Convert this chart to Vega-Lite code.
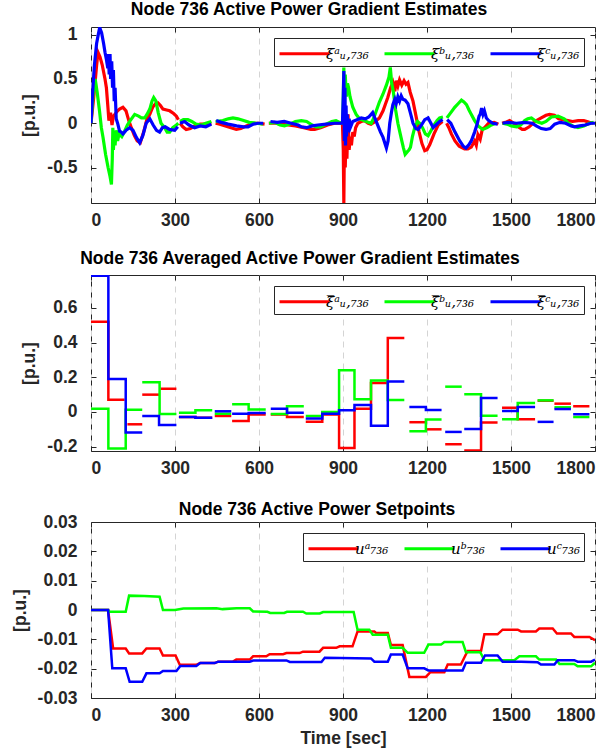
{
  "$schema": "https://vega.github.io/schema/vega-lite/v6.json",
  "background": "white",
  "padding": {"left": 10, "top": 0, "right": 0, "bottom": 0},
  "spacing": 20,
  "config": {
    "font": "Liberation Sans",
    "view": {"stroke": "#262626", "strokeWidth": 1},
    "title": {"font": "Liberation Sans", "fontSize": 17.5, "fontWeight": "bold", "color": "#000000", "offset": 7, "anchor": "middle", "frame": "group"},
    "axis": {"labelFont": "Liberation Sans", "labelFontWeight": "bold", "labelFontSize": 17.5, "labelColor": "#262626", "titleFont": "Liberation Sans", "titleFontWeight": "bold", "titleFontSize": 17.5, "titleColor": "#262626", "domain": false, "tickColor": "#262626", "tickSize": -5, "tickWidth": 1, "grid": false, "labelExpr": "'' + datum.value"},
    "axisX": {"labelPadding": 13, "titlePadding": 6, "gridDash": [6, 5], "gridColor": "#d4d4d4", "gridWidth": 1},
    "axisY": {"labelPadding": 19, "titlePadding": 8},
    "legend": {"orient": "top-right", "direction": "horizontal", "offset": 11, "padding": 4, "strokeColor": "#262626", "fillColor": "white", "symbolType": "M-1,0H4", "symbolSize": 400, "symbolStrokeWidth": 3, "labelFont": "DejaVu Serif", "labelFontStyle": "italic", "labelFontSize": 15, "labelColor": "#000000", "labelOffset": 25, "columnPadding": 9, "title": null}
  },
  "resolve": {"scale": {"color": "independent", "x": "independent", "y": "independent"}},
  "datasets": {
    "p1": [
      {"phase":"a","seg":1,"t":0,"v":0},{"phase":"a","seg":1,"t":10,"v":0.3},{"phase":"a","seg":1,"t":20,"v":0.65},{"phase":"a","seg":1,"t":25,"v":0.8},{"phase":"a","seg":1,"t":32,"v":0.75},{"phase":"a","seg":1,"t":40,"v":0.66},{"phase":"a","seg":1,"t":50,"v":0.5},{"phase":"a","seg":1,"t":55,"v":0.4},{"phase":"a","seg":1,"t":60,"v":0.2},{"phase":"a","seg":1,"t":64,"v":0.03},{"phase":"a","seg":1,"t":70,"v":0.12},{"phase":"a","seg":1,"t":75,"v":-0.02},{"phase":"a","seg":1,"t":80,"v":0.08},{"phase":"a","seg":1,"t":85,"v":0.1},{"phase":"a","seg":1,"t":95,"v":0.14},{"phase":"a","seg":1,"t":102,"v":0.16},{"phase":"a","seg":1,"t":114,"v":0.18},{"phase":"a","seg":1,"t":125,"v":0.14},{"phase":"a","seg":1,"t":135,"v":0.03},{"phase":"a","seg":1,"t":144,"v":-0.05},{"phase":"a","seg":1,"t":155,"v":-0.14},{"phase":"a","seg":1,"t":165,"v":-0.2},{"phase":"a","seg":1,"t":176,"v":-0.22},{"phase":"a","seg":1,"t":188,"v":-0.1},{"phase":"a","seg":1,"t":200,"v":0.05},{"phase":"a","seg":1,"t":210,"v":0.1},{"phase":"a","seg":1,"t":220,"v":0.18},{"phase":"a","seg":1,"t":230,"v":0.22},{"phase":"a","seg":1,"t":239,"v":0.23},{"phase":"a","seg":1,"t":248,"v":0.2},{"phase":"a","seg":1,"t":257,"v":0.16},{"phase":"a","seg":1,"t":270,"v":0.15},{"phase":"a","seg":1,"t":281,"v":0.14},{"phase":"a","seg":1,"t":295,"v":0.11},{"phase":"a","seg":1,"t":305,"v":0.08},{"phase":"a","seg":1,"t":312,"v":0.04},
      {"phase":"a","seg":2,"t":318,"v":0},{"phase":"a","seg":2,"t":328,"v":-0.04},{"phase":"a","seg":2,"t":340,"v":-0.07},{"phase":"a","seg":2,"t":355,"v":-0.06},{"phase":"a","seg":2,"t":370,"v":-0.03},{"phase":"a","seg":2,"t":390,"v":-0.01},{"phase":"a","seg":2,"t":410,"v":-0.01},{"phase":"a","seg":2,"t":430,"v":0},
      {"phase":"a","seg":3,"t":445,"v":0},{"phase":"a","seg":3,"t":460,"v":-0.01},{"phase":"a","seg":3,"t":480,"v":-0.03},{"phase":"a","seg":3,"t":500,"v":-0.05},{"phase":"a","seg":3,"t":519,"v":-0.07},{"phase":"a","seg":3,"t":535,"v":-0.06},{"phase":"a","seg":3,"t":555,"v":-0.03},{"phase":"a","seg":3,"t":579,"v":0},{"phase":"a","seg":3,"t":600,"v":0},{"phase":"a","seg":3,"t":620,"v":-0.01},
      {"phase":"a","seg":4,"t":635,"v":0},{"phase":"a","seg":4,"t":660,"v":0},{"phase":"a","seg":4,"t":680,"v":-0.01},{"phase":"a","seg":4,"t":704,"v":-0.02},{"phase":"a","seg":4,"t":730,"v":-0.03},{"phase":"a","seg":4,"t":760,"v":-0.05},{"phase":"a","seg":4,"t":785,"v":-0.07},{"phase":"a","seg":4,"t":799,"v":-0.07},{"phase":"a","seg":4,"t":820,"v":-0.05},{"phase":"a","seg":4,"t":845,"v":-0.02},{"phase":"a","seg":4,"t":870,"v":0},{"phase":"a","seg":4,"t":898,"v":0},{"phase":"a","seg":4,"t":901,"v":-0.3},{"phase":"a","seg":4,"t":903,"v":-0.9},{"phase":"a","seg":4,"t":905,"v":-0.2},{"phase":"a","seg":4,"t":908,"v":-0.5},{"phase":"a","seg":4,"t":911,"v":-0.1},{"phase":"a","seg":4,"t":914,"v":-0.4},{"phase":"a","seg":4,"t":918,"v":0.1},{"phase":"a","seg":4,"t":922,"v":-0.3},{"phase":"a","seg":4,"t":926,"v":-0.15},{"phase":"a","seg":4,"t":930,"v":-0.25},{"phase":"a","seg":4,"t":935,"v":-0.1},{"phase":"a","seg":4,"t":940,"v":-0.15},{"phase":"a","seg":4,"t":945,"v":-0.05},{"phase":"a","seg":4,"t":953,"v":0},{"phase":"a","seg":4,"t":965,"v":0.02},{"phase":"a","seg":4,"t":977,"v":0.03},{"phase":"a","seg":4,"t":990,"v":0},{"phase":"a","seg":4,"t":1000,"v":-0.01},{"phase":"a","seg":4,"t":1015,"v":0.02},{"phase":"a","seg":4,"t":1030,"v":0.06},{"phase":"a","seg":4,"t":1043,"v":0.14},{"phase":"a","seg":4,"t":1052,"v":0.22},{"phase":"a","seg":4,"t":1060,"v":0.29},{"phase":"a","seg":4,"t":1070,"v":0.4},{"phase":"a","seg":4,"t":1078,"v":0.46},{"phase":"a","seg":4,"t":1085,"v":0.36},{"phase":"a","seg":4,"t":1090,"v":0.48},{"phase":"a","seg":4,"t":1096,"v":0.42},{"phase":"a","seg":4,"t":1102,"v":0.49},{"phase":"a","seg":4,"t":1110,"v":0.43},{"phase":"a","seg":4,"t":1118,"v":0.48},{"phase":"a","seg":4,"t":1125,"v":0.44},{"phase":"a","seg":4,"t":1132,"v":0.46},{"phase":"a","seg":4,"t":1140,"v":0.35},{"phase":"a","seg":4,"t":1150,"v":0.25},{"phase":"a","seg":4,"t":1162,"v":0.06},{"phase":"a","seg":4,"t":1172,"v":-0.1},{"phase":"a","seg":4,"t":1182,"v":-0.23},{"phase":"a","seg":4,"t":1192,"v":-0.31},{"phase":"a","seg":4,"t":1200,"v":-0.3},{"phase":"a","seg":4,"t":1210,"v":-0.24},{"phase":"a","seg":4,"t":1225,"v":-0.12},{"phase":"a","seg":4,"t":1240,"v":-0.02},{"phase":"a","seg":4,"t":1255,"v":0.02},
      {"phase":"a","seg":5,"t":1270,"v":0},{"phase":"a","seg":5,"t":1278,"v":-0.05},{"phase":"a","seg":5,"t":1287,"v":-0.12},{"phase":"a","seg":5,"t":1300,"v":-0.2},{"phase":"a","seg":5,"t":1315,"v":-0.26},{"phase":"a","seg":5,"t":1334,"v":-0.29},{"phase":"a","seg":5,"t":1346,"v":-0.29},{"phase":"a","seg":5,"t":1358,"v":-0.27},{"phase":"a","seg":5,"t":1370,"v":-0.2},{"phase":"a","seg":5,"t":1376,"v":-0.25},{"phase":"a","seg":5,"t":1382,"v":-0.13},{"phase":"a","seg":5,"t":1390,"v":-0.18},{"phase":"a","seg":5,"t":1398,"v":-0.06},{"phase":"a","seg":5,"t":1406,"v":-0.05},{"phase":"a","seg":5,"t":1420,"v":0},{"phase":"a","seg":5,"t":1440,"v":0.01},{"phase":"a","seg":5,"t":1455,"v":-0.01},
      {"phase":"a","seg":6,"t":1468,"v":0},{"phase":"a","seg":6,"t":1480,"v":0.01},{"phase":"a","seg":6,"t":1495,"v":0.03},{"phase":"a","seg":6,"t":1510,"v":0},{"phase":"a","seg":6,"t":1525,"v":-0.04},{"phase":"a","seg":6,"t":1540,"v":-0.07},{"phase":"a","seg":6,"t":1549,"v":-0.07},{"phase":"a","seg":6,"t":1565,"v":-0.04},{"phase":"a","seg":6,"t":1585,"v":0.02},{"phase":"a","seg":6,"t":1608,"v":0.06},{"phase":"a","seg":6,"t":1625,"v":0.09},{"phase":"a","seg":6,"t":1638,"v":0.1},{"phase":"a","seg":6,"t":1655,"v":0.09},{"phase":"a","seg":6,"t":1670,"v":0.05},{"phase":"a","seg":6,"t":1685,"v":0.04},{"phase":"a","seg":6,"t":1703,"v":0.03},{"phase":"a","seg":6,"t":1720,"v":0.02},{"phase":"a","seg":6,"t":1740,"v":0.03},{"phase":"a","seg":6,"t":1760,"v":0.03},{"phase":"a","seg":6,"t":1780,"v":0.01},{"phase":"a","seg":6,"t":1795,"v":0},

      {"phase":"b","seg":1,"t":0,"v":0},{"phase":"b","seg":1,"t":8,"v":0.35},{"phase":"b","seg":1,"t":15,"v":0.5},{"phase":"b","seg":1,"t":22,"v":0.35},{"phase":"b","seg":1,"t":30,"v":0.15},{"phase":"b","seg":1,"t":37,"v":-0.05},{"phase":"b","seg":1,"t":43,"v":-0.16},{"phase":"b","seg":1,"t":52,"v":-0.35},{"phase":"b","seg":1,"t":61,"v":-0.5},{"phase":"b","seg":1,"t":68,"v":-0.6},{"phase":"b","seg":1,"t":73,"v":-0.69},{"phase":"b","seg":1,"t":76,"v":-0.4},{"phase":"b","seg":1,"t":78,"v":-0.05},{"phase":"b","seg":1,"t":80,"v":-0.3},{"phase":"b","seg":1,"t":83,"v":-0.1},{"phase":"b","seg":1,"t":86,"v":-0.25},{"phase":"b","seg":1,"t":90,"v":-0.08},{"phase":"b","seg":1,"t":95,"v":-0.2},{"phase":"b","seg":1,"t":100,"v":-0.12},{"phase":"b","seg":1,"t":110,"v":-0.15},{"phase":"b","seg":1,"t":120,"v":-0.09},{"phase":"b","seg":1,"t":130,"v":-0.02},{"phase":"b","seg":1,"t":140,"v":0.03},{"phase":"b","seg":1,"t":156,"v":0.1},{"phase":"b","seg":1,"t":170,"v":0.08},{"phase":"b","seg":1,"t":180,"v":0.06},{"phase":"b","seg":1,"t":192,"v":0.06},{"phase":"b","seg":1,"t":200,"v":0.1},{"phase":"b","seg":1,"t":210,"v":0.16},{"phase":"b","seg":1,"t":218,"v":0.25},{"phase":"b","seg":1,"t":224,"v":0.29},{"phase":"b","seg":1,"t":232,"v":0.25},{"phase":"b","seg":1,"t":240,"v":0.12},{"phase":"b","seg":1,"t":250,"v":0},{"phase":"b","seg":1,"t":263,"v":-0.05},{"phase":"b","seg":1,"t":272,"v":-0.1},{"phase":"b","seg":1,"t":281,"v":-0.1},{"phase":"b","seg":1,"t":292,"v":-0.05},{"phase":"b","seg":1,"t":305,"v":-0.02},{"phase":"b","seg":1,"t":312,"v":0},
      {"phase":"b","seg":2,"t":318,"v":0.02},{"phase":"b","seg":2,"t":330,"v":0.04},{"phase":"b","seg":2,"t":346,"v":0.04},{"phase":"b","seg":2,"t":360,"v":0.02},{"phase":"b","seg":2,"t":375,"v":-0.01},{"phase":"b","seg":2,"t":395,"v":-0.02},{"phase":"b","seg":2,"t":410,"v":0},{"phase":"b","seg":2,"t":430,"v":0.02},
      {"phase":"b","seg":3,"t":445,"v":0.02},{"phase":"b","seg":3,"t":471,"v":0.03},{"phase":"b","seg":3,"t":490,"v":0.05},{"phase":"b","seg":3,"t":507,"v":0.06},{"phase":"b","seg":3,"t":525,"v":0.05},{"phase":"b","seg":3,"t":545,"v":0.03},{"phase":"b","seg":3,"t":565,"v":0.01},{"phase":"b","seg":3,"t":590,"v":0},{"phase":"b","seg":3,"t":614,"v":-0.01},
      {"phase":"b","seg":4,"t":636,"v":0},{"phase":"b","seg":4,"t":656,"v":0.01},{"phase":"b","seg":4,"t":675,"v":-0.02},{"phase":"b","seg":4,"t":691,"v":-0.03},{"phase":"b","seg":4,"t":710,"v":-0.01},{"phase":"b","seg":4,"t":730,"v":0.02},{"phase":"b","seg":4,"t":751,"v":0.03},{"phase":"b","seg":4,"t":770,"v":0.02},{"phase":"b","seg":4,"t":790,"v":-0.02},{"phase":"b","seg":4,"t":804,"v":-0.04},{"phase":"b","seg":4,"t":820,"v":-0.04},{"phase":"b","seg":4,"t":840,"v":-0.01},{"phase":"b","seg":4,"t":860,"v":0.02},{"phase":"b","seg":4,"t":875,"v":0.03},{"phase":"b","seg":4,"t":893,"v":0},{"phase":"b","seg":4,"t":899,"v":0},{"phase":"b","seg":4,"t":901,"v":0.3},{"phase":"b","seg":4,"t":903,"v":0.63},{"phase":"b","seg":4,"t":905,"v":0.2},{"phase":"b","seg":4,"t":908,"v":0.55},{"phase":"b","seg":4,"t":912,"v":0.3},{"phase":"b","seg":4,"t":916,"v":0.45},{"phase":"b","seg":4,"t":920,"v":0.4},{"phase":"b","seg":4,"t":925,"v":0.3},{"phase":"b","seg":4,"t":935,"v":0.18},{"phase":"b","seg":4,"t":947,"v":0.1},{"phase":"b","seg":4,"t":959,"v":0.05},{"phase":"b","seg":4,"t":975,"v":0.03},{"phase":"b","seg":4,"t":990,"v":0.01},{"phase":"b","seg":4,"t":1001,"v":0},{"phase":"b","seg":4,"t":1010,"v":0.06},{"phase":"b","seg":4,"t":1019,"v":0.14},{"phase":"b","seg":4,"t":1030,"v":0.24},{"phase":"b","seg":4,"t":1043,"v":0.33},{"phase":"b","seg":4,"t":1055,"v":0.43},{"phase":"b","seg":4,"t":1064,"v":0.52},{"phase":"b","seg":4,"t":1069,"v":0.63},{"phase":"b","seg":4,"t":1074,"v":0.45},{"phase":"b","seg":4,"t":1080,"v":0.35},{"phase":"b","seg":4,"t":1088,"v":0.15},{"phase":"b","seg":4,"t":1096,"v":0},{"phase":"b","seg":4,"t":1103,"v":-0.1},{"phase":"b","seg":4,"t":1110,"v":-0.2},{"phase":"b","seg":4,"t":1116,"v":-0.28},{"phase":"b","seg":4,"t":1122,"v":-0.35},{"phase":"b","seg":4,"t":1130,"v":-0.32},{"phase":"b","seg":4,"t":1136,"v":-0.3},{"phase":"b","seg":4,"t":1141,"v":-0.27},{"phase":"b","seg":4,"t":1148,"v":-0.15},{"phase":"b","seg":4,"t":1156,"v":-0.05},{"phase":"b","seg":4,"t":1166,"v":0.02},{"phase":"b","seg":4,"t":1174,"v":0},{"phase":"b","seg":4,"t":1184,"v":-0.05},{"phase":"b","seg":4,"t":1194,"v":-0.12},{"phase":"b","seg":4,"t":1204,"v":-0.14},{"phase":"b","seg":4,"t":1215,"v":-0.08},{"phase":"b","seg":4,"t":1225,"v":-0.02},{"phase":"b","seg":4,"t":1236,"v":0.03},{"phase":"b","seg":4,"t":1245,"v":0.06},{"phase":"b","seg":4,"t":1257,"v":0.07},
      {"phase":"b","seg":5,"t":1271,"v":0.06},{"phase":"b","seg":5,"t":1285,"v":0.12},{"phase":"b","seg":5,"t":1299,"v":0.18},{"phase":"b","seg":5,"t":1311,"v":0.22},{"phase":"b","seg":5,"t":1323,"v":0.26},{"phase":"b","seg":5,"t":1332,"v":0.24},{"phase":"b","seg":5,"t":1341,"v":0.21},{"phase":"b","seg":5,"t":1350,"v":0.15},{"phase":"b","seg":5,"t":1358,"v":0.1},{"phase":"b","seg":5,"t":1370,"v":0.03},{"phase":"b","seg":5,"t":1383,"v":-0.03},{"phase":"b","seg":5,"t":1399,"v":-0.07},{"phase":"b","seg":5,"t":1415,"v":-0.05},{"phase":"b","seg":5,"t":1430,"v":-0.02},{"phase":"b","seg":5,"t":1445,"v":0},
      {"phase":"b","seg":6,"t":1470,"v":0},{"phase":"b","seg":6,"t":1485,"v":-0.01},{"phase":"b","seg":6,"t":1501,"v":-0.03},{"phase":"b","seg":6,"t":1520,"v":-0.04},{"phase":"b","seg":6,"t":1535,"v":-0.02},{"phase":"b","seg":6,"t":1549,"v":0.03},{"phase":"b","seg":6,"t":1560,"v":0.05},{"phase":"b","seg":6,"t":1573,"v":0.06},{"phase":"b","seg":6,"t":1590,"v":0.02},{"phase":"b","seg":6,"t":1610,"v":0},{"phase":"b","seg":6,"t":1625,"v":0.02},{"phase":"b","seg":6,"t":1644,"v":0.07},{"phase":"b","seg":6,"t":1668,"v":0.08},{"phase":"b","seg":6,"t":1690,"v":0.05},{"phase":"b","seg":6,"t":1705,"v":0},{"phase":"b","seg":6,"t":1720,"v":-0.03},{"phase":"b","seg":6,"t":1739,"v":-0.05},{"phase":"b","seg":6,"t":1760,"v":-0.03},{"phase":"b","seg":6,"t":1780,"v":0},{"phase":"b","seg":6,"t":1795,"v":0.01},

      {"phase":"c","seg":1,"t":0,"v":0},{"phase":"c","seg":1,"t":5,"v":0.3},{"phase":"c","seg":1,"t":12,"v":0.65},{"phase":"c","seg":1,"t":20,"v":0.9},{"phase":"c","seg":1,"t":26,"v":1.0},{"phase":"c","seg":1,"t":31,"v":1.08},{"phase":"c","seg":1,"t":38,"v":1.02},{"phase":"c","seg":1,"t":45,"v":0.9},{"phase":"c","seg":1,"t":50,"v":0.8},{"phase":"c","seg":1,"t":55,"v":0.72},{"phase":"c","seg":1,"t":60,"v":0.62},{"phase":"c","seg":1,"t":62,"v":0.78},{"phase":"c","seg":1,"t":65,"v":0.55},{"phase":"c","seg":1,"t":68,"v":0.78},{"phase":"c","seg":1,"t":70,"v":0.5},{"phase":"c","seg":1,"t":74,"v":0.7},{"phase":"c","seg":1,"t":77,"v":0.4},{"phase":"c","seg":1,"t":80,"v":0.6},{"phase":"c","seg":1,"t":83,"v":0.25},{"phase":"c","seg":1,"t":86,"v":0.4},{"phase":"c","seg":1,"t":90,"v":0.05},{"phase":"c","seg":1,"t":95,"v":0},{"phase":"c","seg":1,"t":102,"v":-0.09},{"phase":"c","seg":1,"t":108,"v":-0.1},{"phase":"c","seg":1,"t":114,"v":-0.12},{"phase":"c","seg":1,"t":125,"v":-0.08},{"phase":"c","seg":1,"t":138,"v":-0.05},{"phase":"c","seg":1,"t":150,"v":-0.08},{"phase":"c","seg":1,"t":162,"v":-0.16},{"phase":"c","seg":1,"t":174,"v":-0.22},{"phase":"c","seg":1,"t":185,"v":-0.14},{"phase":"c","seg":1,"t":197,"v":0},{"phase":"c","seg":1,"t":210,"v":0.05},{"phase":"c","seg":1,"t":222,"v":-0.02},{"phase":"c","seg":1,"t":234,"v":-0.08},{"phase":"c","seg":1,"t":245,"v":-0.1},{"phase":"c","seg":1,"t":255,"v":-0.05},{"phase":"c","seg":1,"t":265,"v":-0.04},{"phase":"c","seg":1,"t":280,"v":-0.07},{"phase":"c","seg":1,"t":299,"v":-0.08},{"phase":"c","seg":1,"t":310,"v":-0.04},
      {"phase":"c","seg":2,"t":318,"v":0},{"phase":"c","seg":2,"t":334,"v":0.02},{"phase":"c","seg":2,"t":350,"v":-0.02},{"phase":"c","seg":2,"t":370,"v":-0.05},{"phase":"c","seg":2,"t":390,"v":-0.03},{"phase":"c","seg":2,"t":410,"v":-0.04},{"phase":"c","seg":2,"t":430,"v":-0.01},
      {"phase":"c","seg":3,"t":447,"v":0.03},{"phase":"c","seg":3,"t":465,"v":0.01},{"phase":"c","seg":3,"t":490,"v":-0.01},{"phase":"c","seg":3,"t":520,"v":-0.03},{"phase":"c","seg":3,"t":545,"v":-0.04},{"phase":"c","seg":3,"t":561,"v":-0.04},{"phase":"c","seg":3,"t":580,"v":-0.01},{"phase":"c","seg":3,"t":596,"v":0},{"phase":"c","seg":3,"t":615,"v":0},
      {"phase":"c","seg":4,"t":641,"v":0.02},{"phase":"c","seg":4,"t":665,"v":0.01},{"phase":"c","seg":4,"t":690,"v":0.02},{"phase":"c","seg":4,"t":715,"v":0},{"phase":"c","seg":4,"t":740,"v":-0.02},{"phase":"c","seg":4,"t":751,"v":-0.04},{"phase":"c","seg":4,"t":770,"v":-0.05},{"phase":"c","seg":4,"t":790,"v":-0.03},{"phase":"c","seg":4,"t":810,"v":-0.02},{"phase":"c","seg":4,"t":840,"v":-0.01},{"phase":"c","seg":4,"t":870,"v":0},{"phase":"c","seg":4,"t":898,"v":0},{"phase":"c","seg":4,"t":901,"v":0.3},{"phase":"c","seg":4,"t":903,"v":0.59},{"phase":"c","seg":4,"t":905,"v":-0.2},{"phase":"c","seg":4,"t":907,"v":0.4},{"phase":"c","seg":4,"t":909,"v":-0.25},{"phase":"c","seg":4,"t":911,"v":0.2},{"phase":"c","seg":4,"t":913,"v":-0.15},{"phase":"c","seg":4,"t":915,"v":0.1},{"phase":"c","seg":4,"t":918,"v":-0.1},{"phase":"c","seg":4,"t":922,"v":0.05},{"phase":"c","seg":4,"t":926,"v":-0.05},{"phase":"c","seg":4,"t":935,"v":0.02},{"phase":"c","seg":4,"t":950,"v":0.04},{"phase":"c","seg":4,"t":965,"v":0.06},{"phase":"c","seg":4,"t":980,"v":0.05},{"phase":"c","seg":4,"t":992,"v":0.07},{"phase":"c","seg":4,"t":1006,"v":0.12},{"phase":"c","seg":4,"t":1015,"v":0.05},{"phase":"c","seg":4,"t":1025,"v":-0.03},{"phase":"c","seg":4,"t":1034,"v":-0.1},{"phase":"c","seg":4,"t":1043,"v":-0.16},{"phase":"c","seg":4,"t":1055,"v":-0.28},{"phase":"c","seg":4,"t":1061,"v":-0.2},{"phase":"c","seg":4,"t":1067,"v":0},{"phase":"c","seg":4,"t":1073,"v":0.12},{"phase":"c","seg":4,"t":1078,"v":0.21},{"phase":"c","seg":4,"t":1085,"v":0.27},{"phase":"c","seg":4,"t":1090,"v":0.22},{"phase":"c","seg":4,"t":1096,"v":0.3},{"phase":"c","seg":4,"t":1102,"v":0.25},{"phase":"c","seg":4,"t":1108,"v":0.31},{"phase":"c","seg":4,"t":1114,"v":0.27},{"phase":"c","seg":4,"t":1122,"v":0.26},{"phase":"c","seg":4,"t":1132,"v":0.22},{"phase":"c","seg":4,"t":1142,"v":0.1},{"phase":"c","seg":4,"t":1150,"v":0},{"phase":"c","seg":4,"t":1160,"v":-0.06},{"phase":"c","seg":4,"t":1168,"v":-0.07},{"phase":"c","seg":4,"t":1180,"v":-0.02},{"phase":"c","seg":4,"t":1192,"v":0.04},{"phase":"c","seg":4,"t":1204,"v":0.06},{"phase":"c","seg":4,"t":1214,"v":0},{"phase":"c","seg":4,"t":1222,"v":-0.05},{"phase":"c","seg":4,"t":1232,"v":-0.02},{"phase":"c","seg":4,"t":1245,"v":0.02},{"phase":"c","seg":4,"t":1256,"v":0.04},
      {"phase":"c","seg":5,"t":1272,"v":0.04},{"phase":"c","seg":5,"t":1285,"v":0},{"phase":"c","seg":5,"t":1300,"v":-0.1},{"phase":"c","seg":5,"t":1317,"v":-0.2},{"phase":"c","seg":5,"t":1330,"v":-0.26},{"phase":"c","seg":5,"t":1339,"v":-0.28},{"phase":"c","seg":5,"t":1350,"v":-0.24},{"phase":"c","seg":5,"t":1358,"v":-0.2},{"phase":"c","seg":5,"t":1370,"v":-0.1},{"phase":"c","seg":5,"t":1380,"v":0},{"phase":"c","seg":5,"t":1386,"v":0.08},{"phase":"c","seg":5,"t":1390,"v":0.1},{"phase":"c","seg":5,"t":1395,"v":0.17},{"phase":"c","seg":5,"t":1400,"v":0.1},{"phase":"c","seg":5,"t":1405,"v":0.14},{"phase":"c","seg":5,"t":1412,"v":0.06},{"phase":"c","seg":5,"t":1420,"v":0.03},{"phase":"c","seg":5,"t":1435,"v":0},{"phase":"c","seg":5,"t":1452,"v":-0.01},
      {"phase":"c","seg":6,"t":1470,"v":0},{"phase":"c","seg":6,"t":1490,"v":0.01},{"phase":"c","seg":6,"t":1520,"v":0},{"phase":"c","seg":6,"t":1549,"v":0.01},{"phase":"c","seg":6,"t":1575,"v":0},{"phase":"c","seg":6,"t":1590,"v":-0.03},{"phase":"c","seg":6,"t":1608,"v":-0.06},{"phase":"c","seg":6,"t":1625,"v":-0.07},{"phase":"c","seg":6,"t":1640,"v":-0.06},{"phase":"c","seg":6,"t":1656,"v":-0.01},{"phase":"c","seg":6,"t":1675,"v":0.01},{"phase":"c","seg":6,"t":1695,"v":0},{"phase":"c","seg":6,"t":1715,"v":-0.03},{"phase":"c","seg":6,"t":1727,"v":-0.04},{"phase":"c","seg":6,"t":1745,"v":-0.03},{"phase":"c","seg":6,"t":1765,"v":-0.02},{"phase":"c","seg":6,"t":1786,"v":0},{"phase":"c","seg":6,"t":1800,"v":0}
    ],
    "p2": [
      {"phase":"a","run":1,"t":0,"v":0.521},{"phase":"a","run":1,"t":62,"v":0.071},{"phase":"a","run":1,"t":120,"v":0.071},
      {"phase":"a","run":2,"t":130,"v":-0.071},{"phase":"a","run":2,"t":183,"v":-0.071},
      {"phase":"a","run":3,"t":183,"v":0.1},{"phase":"a","run":3,"t":243,"v":0.1},
      {"phase":"a","run":4,"t":248,"v":0.134},{"phase":"a","run":4,"t":305,"v":0.134},
      {"phase":"a","run":5,"t":314,"v":-0.029},{"phase":"a","run":5,"t":373,"v":-0.033},{"phase":"a","run":5,"t":433,"v":-0.033},
      {"phase":"a","run":6,"t":442,"v":-0.023},{"phase":"a","run":6,"t":501,"v":-0.023},
      {"phase":"a","run":7,"t":504,"v":-0.052},{"phase":"a","run":7,"t":563,"v":-0.015},{"phase":"a","run":7,"t":624,"v":-0.015},
      {"phase":"a","run":8,"t":642,"v":-0.015},{"phase":"a","run":8,"t":700,"v":-0.029},{"phase":"a","run":8,"t":760,"v":-0.029},
      {"phase":"a","run":9,"t":767,"v":-0.057},{"phase":"a","run":9,"t":826,"v":-0.015},{"phase":"a","run":9,"t":886,"v":-0.207},{"phase":"a","run":9,"t":941,"v":0.019},{"phase":"a","run":9,"t":1000,"v":0.167},{"phase":"a","run":9,"t":1060,"v":0.427},{"phase":"a","run":9,"t":1119,"v":0.427},
      {"phase":"a","run":10,"t":1137,"v":-0.059},{"phase":"a","run":10,"t":1196,"v":-0.059},
      {"phase":"a","run":11,"t":1196,"v":-0.1},{"phase":"a","run":11,"t":1252,"v":-0.1},
      {"phase":"a","run":12,"t":1265,"v":-0.186},{"phase":"a","run":12,"t":1324,"v":-0.186},
      {"phase":"a","run":13,"t":1333,"v":-0.222},{"phase":"a","run":13,"t":1393,"v":-0.061},{"phase":"a","run":13,"t":1452,"v":-0.061},
      {"phase":"a","run":14,"t":1468,"v":0.025},{"phase":"a","run":14,"t":1524,"v":-0.042},{"phase":"a","run":14,"t":1586,"v":-0.042},
      {"phase":"a","run":15,"t":1595,"v":0.065},{"phase":"a","run":15,"t":1652,"v":0.065},
      {"phase":"a","run":16,"t":1655,"v":0.048},{"phase":"a","run":16,"t":1714,"v":0.048},
      {"phase":"a","run":17,"t":1722,"v":0.033},{"phase":"a","run":17,"t":1780,"v":0.033},

      {"phase":"b","run":1,"t":0,"v":0.019},{"phase":"b","run":1,"t":62,"v":-0.21},{"phase":"b","run":1,"t":124,"v":0.013},{"phase":"b","run":1,"t":183,"v":0.013},
      {"phase":"b","run":2,"t":183,"v":0.172},{"phase":"b","run":2,"t":245,"v":-0.012},{"phase":"b","run":2,"t":305,"v":-0.012},
      {"phase":"b","run":3,"t":314,"v":-0.004},{"phase":"b","run":3,"t":373,"v":0.01},{"phase":"b","run":3,"t":433,"v":0.01},
      {"phase":"b","run":4,"t":442,"v":-0.01},{"phase":"b","run":4,"t":501,"v":-0.01},
      {"phase":"b","run":5,"t":504,"v":0.044},{"phase":"b","run":5,"t":563,"v":0.015},{"phase":"b","run":5,"t":624,"v":0.015},
      {"phase":"b","run":6,"t":642,"v":-0.012},{"phase":"b","run":6,"t":700,"v":0.033},{"phase":"b","run":6,"t":760,"v":0.033},
      {"phase":"b","run":7,"t":767,"v":-0.023},{"phase":"b","run":7,"t":826,"v":0},{"phase":"b","run":7,"t":886,"v":0.24},{"phase":"b","run":7,"t":941,"v":0.073},{"phase":"b","run":7,"t":1000,"v":0.182},{"phase":"b","run":7,"t":1060,"v":0.069},{"phase":"b","run":7,"t":1119,"v":0.069},
      {"phase":"b","run":8,"t":1137,"v":-0.111},{"phase":"b","run":8,"t":1196,"v":-0.044},{"phase":"b","run":8,"t":1252,"v":-0.044},
      {"phase":"b","run":9,"t":1265,"v":0.146},{"phase":"b","run":9,"t":1324,"v":0.146},
      {"phase":"b","run":10,"t":1333,"v":0.102},{"phase":"b","run":10,"t":1393,"v":-0.021},{"phase":"b","run":10,"t":1452,"v":-0.021},
      {"phase":"b","run":11,"t":1468,"v":-0.042},{"phase":"b","run":11,"t":1524,"v":0.052},{"phase":"b","run":11,"t":1586,"v":0.052},
      {"phase":"b","run":12,"t":1595,"v":0.067},{"phase":"b","run":12,"t":1652,"v":0.067},
      {"phase":"b","run":13,"t":1655,"v":0.027},{"phase":"b","run":13,"t":1714,"v":0.027},
      {"phase":"b","run":14,"t":1722,"v":-0.029},{"phase":"b","run":14,"t":1780,"v":-0.029},

      {"phase":"c","run":1,"t":0,"v":0.785},{"phase":"c","run":1,"t":62,"v":0.19},{"phase":"c","run":1,"t":124,"v":-0.119},{"phase":"c","run":1,"t":183,"v":-0.119},
      {"phase":"c","run":2,"t":183,"v":-0.023},{"phase":"c","run":2,"t":243,"v":-0.075},{"phase":"c","run":2,"t":305,"v":-0.075},
      {"phase":"c","run":3,"t":314,"v":-0.029},{"phase":"c","run":3,"t":373,"v":-0.033},{"phase":"c","run":3,"t":433,"v":-0.033},
      {"phase":"c","run":4,"t":442,"v":0.004},{"phase":"c","run":4,"t":501,"v":0.004},
      {"phase":"c","run":5,"t":504,"v":-0.01},{"phase":"c","run":5,"t":563,"v":-0.006},{"phase":"c","run":5,"t":624,"v":-0.006},
      {"phase":"c","run":6,"t":642,"v":0.019},{"phase":"c","run":6,"t":700,"v":-0.004},{"phase":"c","run":6,"t":760,"v":-0.004},
      {"phase":"c","run":7,"t":767,"v":-0.038},{"phase":"c","run":7,"t":826,"v":-0.01},{"phase":"c","run":7,"t":886,"v":0.01},{"phase":"c","run":7,"t":941,"v":0.04},{"phase":"c","run":7,"t":1000,"v":-0.08},{"phase":"c","run":7,"t":1060,"v":0.176},{"phase":"c","run":7,"t":1119,"v":0.176},
      {"phase":"c","run":8,"t":1137,"v":0.029},{"phase":"c","run":8,"t":1196,"v":0.011},{"phase":"c","run":8,"t":1252,"v":0.011},
      {"phase":"c","run":9,"t":1265,"v":-0.115},{"phase":"c","run":9,"t":1324,"v":-0.115},
      {"phase":"c","run":10,"t":1333,"v":-0.098},{"phase":"c","run":10,"t":1393,"v":0.08},{"phase":"c","run":10,"t":1452,"v":0.08},
      {"phase":"c","run":11,"t":1468,"v":0.006},{"phase":"c","run":11,"t":1524,"v":0.029},{"phase":"c","run":11,"t":1586,"v":0.029},
      {"phase":"c","run":12,"t":1595,"v":-0.057},{"phase":"c","run":12,"t":1652,"v":-0.057},
      {"phase":"c","run":13,"t":1655,"v":0.017},{"phase":"c","run":13,"t":1714,"v":0.017},
      {"phase":"c","run":14,"t":1722,"v":-0.013},{"phase":"c","run":14,"t":1780,"v":-0.013}
    ],
    "p3": [
      {"phase":"a","t":0,"v":0},{"phase":"a","t":61,"v":0},{"phase":"a","t":79,"v":-0.0131},{"phase":"a","t":124,"v":-0.0131},{"phase":"a","t":136,"v":-0.0148},{"phase":"a","t":183,"v":-0.0148},{"phase":"a","t":198,"v":-0.0131},{"phase":"a","t":245,"v":-0.0131},{"phase":"a","t":257,"v":-0.0155},{"phase":"a","t":302,"v":-0.0155},{"phase":"a","t":317,"v":-0.0187},{"phase":"a","t":376,"v":-0.0187},{"phase":"a","t":390,"v":-0.0181},{"phase":"a","t":442,"v":-0.0181},{"phase":"a","t":454,"v":-0.0176},{"phase":"a","t":507,"v":-0.0176},{"phase":"a","t":519,"v":-0.0169},{"phase":"a","t":567,"v":-0.0169},{"phase":"a","t":579,"v":-0.0158},{"phase":"a","t":626,"v":-0.0158},{"phase":"a","t":638,"v":-0.0151},{"phase":"a","t":686,"v":-0.0151},{"phase":"a","t":698,"v":-0.0147},{"phase":"a","t":745,"v":-0.0147},{"phase":"a","t":757,"v":-0.0142},{"phase":"a","t":816,"v":-0.0142},{"phase":"a","t":829,"v":-0.0129},{"phase":"a","t":876,"v":-0.0129},{"phase":"a","t":888,"v":-0.0124},{"phase":"a","t":934,"v":-0.0124},{"phase":"a","t":952,"v":-0.0073},{"phase":"a","t":1012,"v":-0.0073},{"phase":"a","t":1018,"v":-0.0078},{"phase":"a","t":1060,"v":-0.0078},{"phase":"a","t":1071,"v":-0.0119},{"phase":"a","t":1113,"v":-0.0119},{"phase":"a","t":1137,"v":-0.0228},{"phase":"a","t":1196,"v":-0.0228},{"phase":"a","t":1212,"v":-0.0212},{"phase":"a","t":1262,"v":-0.0212},{"phase":"a","t":1274,"v":-0.0186},{"phase":"a","t":1321,"v":-0.0186},{"phase":"a","t":1345,"v":-0.014},{"phase":"a","t":1393,"v":-0.014},{"phase":"a","t":1405,"v":-0.0083},{"phase":"a","t":1452,"v":-0.0083},{"phase":"a","t":1470,"v":-0.0067},{"phase":"a","t":1524,"v":-0.0067},{"phase":"a","t":1536,"v":-0.0073},{"phase":"a","t":1589,"v":-0.0073},{"phase":"a","t":1601,"v":-0.0063},{"phase":"a","t":1649,"v":-0.0063},{"phase":"a","t":1664,"v":-0.008},{"phase":"a","t":1714,"v":-0.008},{"phase":"a","t":1726,"v":-0.0092},{"phase":"a","t":1780,"v":-0.0092},{"phase":"a","t":1800,"v":-0.0103},
      {"phase":"b","t":0,"v":0},{"phase":"b","t":61,"v":0},{"phase":"b","t":67,"v":-0.0006},{"phase":"b","t":124,"v":-0.0006},{"phase":"b","t":136,"v":0.0049},{"phase":"b","t":190,"v":0.0048},{"phase":"b","t":245,"v":0.0045},{"phase":"b","t":257,"v":0},{"phase":"b","t":300,"v":0},{"phase":"b","t":330,"v":0.0005},{"phase":"b","t":448,"v":0.0006},{"phase":"b","t":470,"v":0.0003},{"phase":"b","t":520,"v":0.0006},{"phase":"b","t":567,"v":0.0006},{"phase":"b","t":579,"v":-0.0005},{"phase":"b","t":630,"v":-0.0006},{"phase":"b","t":640,"v":-0.001},{"phase":"b","t":690,"v":-0.001},{"phase":"b","t":700,"v":-0.0006},{"phase":"b","t":757,"v":-0.0006},{"phase":"b","t":769,"v":-0.0012},{"phase":"b","t":817,"v":-0.0012},{"phase":"b","t":829,"v":-0.0007},{"phase":"b","t":938,"v":-0.0007},{"phase":"b","t":952,"v":-0.0067},{"phase":"b","t":994,"v":-0.0067},{"phase":"b","t":1006,"v":-0.0084},{"phase":"b","t":1060,"v":-0.0084},{"phase":"b","t":1071,"v":-0.0129},{"phase":"b","t":1113,"v":-0.0129},{"phase":"b","t":1131,"v":-0.0146},{"phase":"b","t":1190,"v":-0.0146},{"phase":"b","t":1205,"v":-0.0118},{"phase":"b","t":1250,"v":-0.0118},{"phase":"b","t":1262,"v":-0.0109},{"phase":"b","t":1327,"v":-0.0109},{"phase":"b","t":1339,"v":-0.0144},{"phase":"b","t":1390,"v":-0.0144},{"phase":"b","t":1405,"v":-0.0171},{"phase":"b","t":1512,"v":-0.0171},{"phase":"b","t":1530,"v":-0.0158},{"phase":"b","t":1589,"v":-0.0158},{"phase":"b","t":1601,"v":-0.0169},{"phase":"b","t":1661,"v":-0.0169},{"phase":"b","t":1673,"v":-0.0184},{"phase":"b","t":1726,"v":-0.0184},{"phase":"b","t":1738,"v":-0.0192},{"phase":"b","t":1786,"v":-0.0192},{"phase":"b","t":1800,"v":-0.018},
      {"phase":"c","t":0,"v":0},{"phase":"c","t":61,"v":0},{"phase":"c","t":76,"v":-0.0199},{"phase":"c","t":124,"v":-0.0199},{"phase":"c","t":138,"v":-0.0245},{"phase":"c","t":183,"v":-0.0245},{"phase":"c","t":198,"v":-0.0216},{"phase":"c","t":245,"v":-0.0216},{"phase":"c","t":257,"v":-0.0208},{"phase":"c","t":305,"v":-0.0208},{"phase":"c","t":319,"v":-0.0191},{"phase":"c","t":376,"v":-0.0191},{"phase":"c","t":390,"v":-0.0181},{"phase":"c","t":442,"v":-0.0181},{"phase":"c","t":454,"v":-0.0176},{"phase":"c","t":567,"v":-0.0176},{"phase":"c","t":579,"v":-0.0172},{"phase":"c","t":698,"v":-0.0172},{"phase":"c","t":710,"v":-0.0177},{"phase":"c","t":823,"v":-0.0177},{"phase":"c","t":835,"v":-0.0163},{"phase":"c","t":1000,"v":-0.0165},{"phase":"c","t":1012,"v":-0.0176},{"phase":"c","t":1060,"v":-0.0176},{"phase":"c","t":1071,"v":-0.0152},{"phase":"c","t":1113,"v":-0.0152},{"phase":"c","t":1131,"v":-0.0199},{"phase":"c","t":1190,"v":-0.0199},{"phase":"c","t":1205,"v":-0.0206},{"phase":"c","t":1327,"v":-0.0206},{"phase":"c","t":1339,"v":-0.018},{"phase":"c","t":1393,"v":-0.018},{"phase":"c","t":1407,"v":-0.0155},{"phase":"c","t":1452,"v":-0.0155},{"phase":"c","t":1470,"v":-0.0176},{"phase":"c","t":1536,"v":-0.0176},{"phase":"c","t":1595,"v":-0.0178},{"phase":"c","t":1607,"v":-0.0186},{"phase":"c","t":1655,"v":-0.0186},{"phase":"c","t":1667,"v":-0.0171},{"phase":"c","t":1726,"v":-0.0171},{"phase":"c","t":1738,"v":-0.0176},{"phase":"c","t":1786,"v":-0.0176},{"phase":"c","t":1800,"v":-0.0169}
    ]
  },
  "vconcat": [
    {
      "width": 504, "height": 176,
      "title": {"text": "Node 736 Active Power Gradient Estimates", "dx": -34},
      "resolve": {"axis": {"x": "independent", "y": "independent"}},
      "layer": [
        {
          "data": {"name": "p1"},
          "mark": {"type": "line", "strokeWidth": 3.2, "clip": true},
          "encoding": {
            "x": {"field": "t", "type": "quantitative", "scale": {"domain": [0, 1800], "nice": false, "zero": false}, "axis": {"values": [0, 300, 600, 900, 1200, 1500, 1800], "title": null, "grid": true}},
            "y": {"field": "v", "type": "quantitative", "scale": {"domain": [-0.9, 1.086], "nice": false, "zero": false}, "axis": {"values": [-0.5, 0, 0.5, 1], "title": "[p.u.]"}},
            "color": {"field": "phase", "type": "nominal", "scale": {"domain": ["a", "b", "c"], "range": ["#ff0000", "#00ff00", "#0000ff"]}, "legend": {"symbolType": "M-1,0H4", "labelExpr": "datum.label == 'a' ? '\u03be\u1d43\u1d64,\u2087\u2083\u2086' : datum.label == 'b' ? '\u03be\u1d47\u1d64,\u2087\u2083\u2086' : '\u03be\u1d9c\u1d64,\u2087\u2083\u2086'"}},
            "detail": {"field": "seg", "type": "nominal"}
          }
        },
        {
          "data": {"name": "p1"},
          "mark": {"type": "line", "opacity": 0},
          "encoding": {
            "x": {"field": "t", "type": "quantitative", "scale": {"domain": [0, 1800], "nice": false, "zero": false}, "axis": {"orient": "top", "values": [0, 300, 600, 900, 1200, 1500, 1800], "labels": false, "title": null, "grid": false}},
            "y": {"field": "v", "type": "quantitative", "scale": {"domain": [-0.9, 1.086], "nice": false, "zero": false}, "axis": {"orient": "right", "values": [-0.5, 0, 0.5, 1], "labels": false, "title": null}}
          }
        }
      ]
    },
    {
      "width": 504, "height": 176,
      "title": {"text": "Node 736 Averaged Active Power Gradient Estimates", "dx": -43},
      "resolve": {"axis": {"x": "independent", "y": "independent"}},
      "layer": [
        {
          "data": {"name": "p2"},
          "mark": {"type": "line", "strokeWidth": 2.5, "interpolate": "step-after", "clip": true},
          "encoding": {
            "x": {"field": "t", "type": "quantitative", "scale": {"domain": [0, 1800], "nice": false, "zero": false}, "axis": {"values": [0, 300, 600, 900, 1200, 1500, 1800], "title": null, "grid": true, "labelExpr": "['' + datum.value, '']", "labelLineHeight": 3}},
            "y": {"field": "v", "type": "quantitative", "scale": {"domain": [-0.225, 0.79], "nice": false, "zero": false}, "axis": {"values": [-0.2, 0, 0.2, 0.4, 0.6], "title": "[p.u.]"}},
            "color": {"field": "phase", "type": "nominal", "scale": {"domain": ["a", "b", "c"], "range": ["#ff0000", "#00ff00", "#0000ff"]}, "legend": {"symbolType": "M-1,0H4", "labelExpr": "datum.label == 'a' ? '\u03be\u0305\u1d43\u1d64,\u2087\u2083\u2086' : datum.label == 'b' ? '\u03be\u0305\u1d47\u1d64,\u2087\u2083\u2086' : '\u03be\u0305\u1d9c\u1d64,\u2087\u2083\u2086'"}},
            "detail": {"field": "run", "type": "nominal"}
          }
        },
        {
          "data": {"name": "p2"},
          "mark": {"type": "line", "opacity": 0},
          "encoding": {
            "x": {"field": "t", "type": "quantitative", "scale": {"domain": [0, 1800], "nice": false, "zero": false}, "axis": {"orient": "top", "values": [0, 300, 600, 900, 1200, 1500, 1800], "labels": false, "title": null, "grid": false}},
            "y": {"field": "v", "type": "quantitative", "scale": {"domain": [-0.225, 0.79], "nice": false, "zero": false}, "axis": {"orient": "right", "values": [-0.2, 0, 0.2, 0.4, 0.6], "labels": false, "title": null}}
          }
        }
      ]
    },
    {
      "width": 504, "height": 176,
      "title": {"text": "Node 736 Active Power Setpoints", "dx": -26, "offset": -5},
      "resolve": {"axis": {"x": "independent", "y": "independent"}},
      "layer": [
        {
          "data": {"name": "p3"},
          "mark": {"type": "line", "strokeWidth": 2.5, "clip": true},
          "encoding": {
            "x": {"field": "t", "type": "quantitative", "scale": {"domain": [0, 1800], "nice": false, "zero": false}, "axis": {"values": [0, 300, 600, 900, 1200, 1500, 1800], "title": "Time [sec]", "grid": true}},
            "y": {"field": "v", "type": "quantitative", "scale": {"domain": [-0.03, 0.03], "nice": false, "zero": false}, "axis": {"values": [-0.03, -0.02, -0.01, 0, 0.01, 0.02, 0.03], "title": "[p.u.]"}},
            "color": {"field": "phase", "type": "nominal", "scale": {"domain": ["a", "b", "c"], "range": ["#ff0000", "#00ff00", "#0000ff"]}, "legend": {"symbolType": "M-1,0H4", "labelExpr": "datum.label == 'a' ? 'u\u1d43\u2087\u2083\u2086' : datum.label == 'b' ? 'u\u1d47\u2087\u2083\u2086' : 'u\u1d9c\u2087\u2083\u2086'"}}
          }
        },
        {
          "data": {"name": "p3"},
          "mark": {"type": "line", "opacity": 0},
          "encoding": {
            "x": {"field": "t", "type": "quantitative", "scale": {"domain": [0, 1800], "nice": false, "zero": false}, "axis": {"orient": "top", "values": [0, 300, 600, 900, 1200, 1500, 1800], "labels": false, "title": null, "grid": false}},
            "y": {"field": "v", "type": "quantitative", "scale": {"domain": [-0.03, 0.03], "nice": false, "zero": false}, "axis": {"orient": "right", "values": [-0.03, -0.02, -0.01, 0, 0.01, 0.02, 0.03], "labels": false, "title": null}}
          }
        }
      ]
    }
  ]
}
